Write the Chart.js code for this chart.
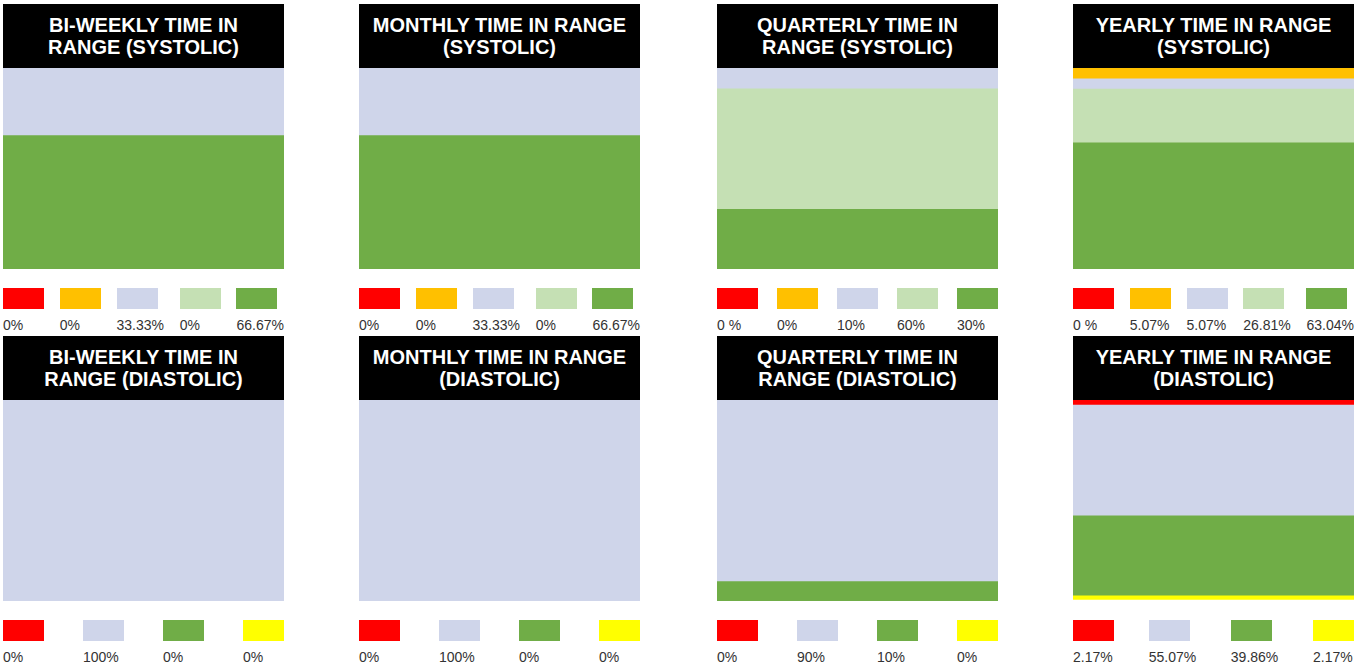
<!DOCTYPE html>
<html>
<head>
<meta charset="utf-8">
<title>Time in range</title>
<script src="https://cdn.jsdelivr.net/npm/chart.js@4"></script>
<style>
  html, body { margin: 0; padding: 0; background: #fff; }
  body { width: 1363px; height: 667px; position: relative; overflow: hidden;
         font-family: "Liberation Sans", Arial, sans-serif; }
  .panel { position: absolute; width: 281px; }
  .head { height: 64px; background: #000; color: #fff; font-weight: bold;
          font-size: 20px; line-height: 22px; text-align: center;
          white-space: pre-line; box-sizing: border-box; padding-top: 10px; }
  .bar { width: 281px; height: 201px; position: relative; }
  .legend { display: flex; justify-content: space-between; margin-top: 19px; }
  .item { min-width: 41px; }
  .swatch { width: 41px; height: 21px; }
  .txt { font-size: 14px; line-height: 16px; color: #333; margin-top: 8px; white-space: nowrap; }
</style>
</head>
<body>
<script>
// couleurs des zones (haut -> bas)
const systolicColors = ['#FF0000', '#FFC000', '#CFD5EA', '#C5E0B4', '#70AD47'];
const diastolicColors = ['#FF0000', '#CFD5EA', '#70AD47', '#FFFF00'];

const titles = [
  'BI-WEEKLY TIME IN\nRANGE (SYSTOLIC)',
  'MONTHLY TIME IN RANGE\n(SYSTOLIC)',
  'QUARTERLY TIME IN\nRANGE (SYSTOLIC)',
  'YEARLY TIME IN RANGE\n(SYSTOLIC)',
  'BI-WEEKLY TIME IN\nRANGE (DIASTOLIC)',
  'MONTHLY TIME IN RANGE\n(DIASTOLIC)',
  'QUARTERLY TIME IN\nRANGE (DIASTOLIC)',
  'YEARLY TIME IN RANGE\n(DIASTOLIC)'
];

// valeurs en %
const sysBiWeekly = [0, 0, 33.33, 0, 66.67];
const sysMonthly = [0, 0, 33.33, 0, 66.67];
const sysQuarterly = [0, 0, 10, 60, 30];
const sysYearly = [0, 5.07, 5.07, 26.81, 63.04];
const diaBiWeekly = [0, 100, 0, 0];
const diaMonthly = [0, 100, 0, 0];
const diaQuarterly = [0, 90, 10, 0];
const diaYearly = [2.17, 55.07, 39.86, 2.17];

// textes de la légende
const sysBiWeeklyText = ['0%', '0%', '33.33%', '0%', '66.67%'];
const sysMonthlyText = ['0%', '0%', '33.33%', '0%', '66.67%'];
const sysQuarterlyText = ['0 %', '0%', '10%', '60%', '30%'];
const sysYearlyText = ['0 %', '5.07%', '5.07%', '26.81%', '63.04%'];
const diaBiWeeklyText = ['0%', '100%', '0%', '0%'];
const diaMonthlyText = ['0%', '100%', '0%', '0%'];
const diaQuarterlyText = ['0%', '90%', '10%', '0%'];
const diaYearlyText = ['2.17%', '55.07%', '39.86%', '2.17%'];

const panels = [
  [sysBiWeekly, sysBiWeeklyText, systolicColors],
  [sysMonthly, sysMonthlyText, systolicColors],
  [sysQuarterly, sysQuarterlyText, systolicColors],
  [sysYearly, sysYearlyText, systolicColors],
  [diaBiWeekly, diaBiWeeklyText, diastolicColors],
  [diaMonthly, diaMonthlyText, diastolicColors],
  [diaQuarterly, diaQuarterlyText, diastolicColors],
  [diaYearly, diaYearlyText, diastolicColors]
];

const lefts = [3, 359, 717, 1073];
const tops = [4, 336];

panels.forEach((p, i) => {
  const values = p[0], texts = p[1], colors = p[2];
  const panel = document.createElement('div');
  panel.className = 'panel';
  panel.style.left = lefts[i % 4] + 'px';
  panel.style.top = tops[Math.floor(i / 4)] + 'px';

  const head = document.createElement('div');
  head.className = 'head';
  head.textContent = titles[i];
  panel.appendChild(head);

  const wrap = document.createElement('div');
  wrap.className = 'bar';
  const canvas = document.createElement('canvas');
  wrap.appendChild(canvas);
  panel.appendChild(wrap);

  const legend = document.createElement('div');
  legend.className = 'legend';
  values.forEach((v, k) => {
    const item = document.createElement('div');
    item.className = 'item';
    const sw = document.createElement('div');
    sw.className = 'swatch';
    sw.style.background = colors[k];
    const t = document.createElement('div');
    t.className = 'txt';
    t.textContent = texts[k];
    item.appendChild(sw);
    item.appendChild(t);
    legend.appendChild(item);
  });
  panel.appendChild(legend);
  document.body.appendChild(panel);

  new Chart(canvas, {
    type: 'bar',
    data: {
      labels: [''],
      datasets: values.map((v, k) => ({
        // une zone à 0 % n'est pas dessinée
        data: [v === 0 ? null : v],
        backgroundColor: colors[k],
        borderWidth: 0,
        barPercentage: 1,
        categoryPercentage: 1
      }))
    },
    options: {
      responsive: true,
      maintainAspectRatio: false,
      animation: false,
      layout: { padding: 0 },
      plugins: { legend: { display: false }, tooltip: { enabled: false } },
      scales: {
        x: { stacked: true, display: false },
        y: { stacked: true, display: false, min: 0, max: 100, reverse: true }
      }
    }
  });
});
</script>
</body>
</html>
